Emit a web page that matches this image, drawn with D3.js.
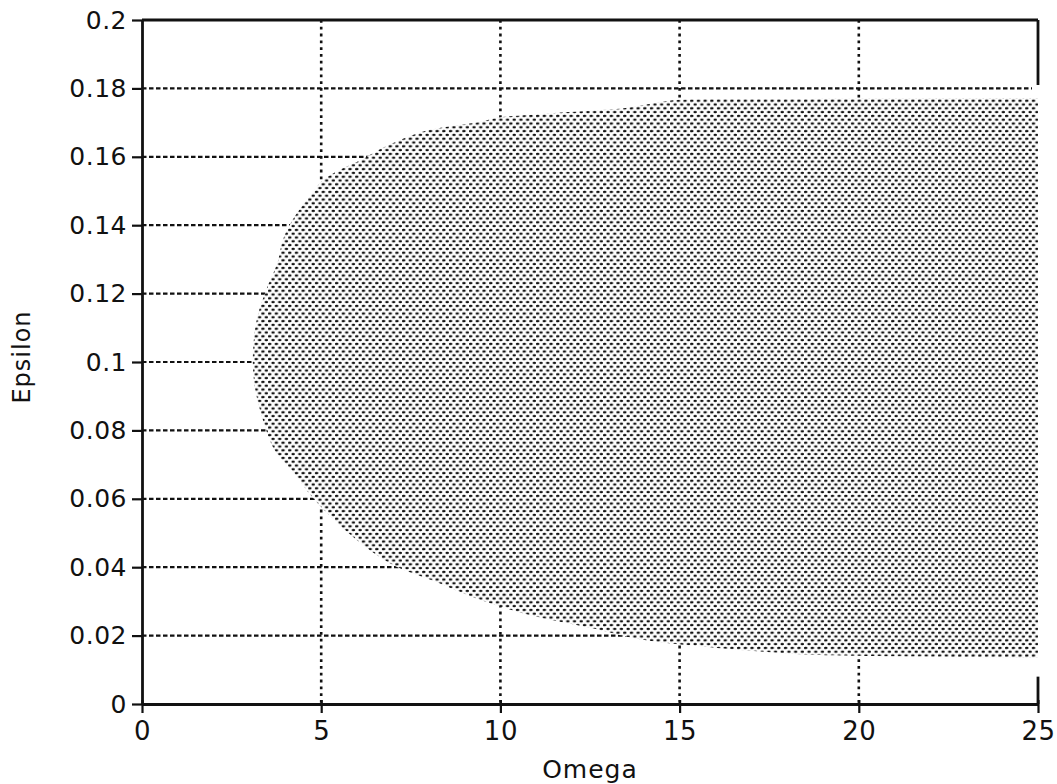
<!DOCTYPE html>
<html>
<head>
<meta charset="utf-8">
<script src="https://cdn.jsdelivr.net/npm/d3@7"></script>
<style>
  body { margin: 0; background: #fff; }
  text { font-family: "DejaVu Sans", sans-serif; fill: #111; }
</style>
</head>
<body>
<div id="chart"></div>
<script>
// Boundary of the shaded (stable) region, traced from top-right round the nose to bottom-right
var boundaryOmega = [25, 18.4, 14.9, 14.3, 13.5, 11.9, 10.8, 10.0, 9.4, 8.0, 7.2, 6.6, 6.2, 5.5,
  5.05, 4.7, 4.2, 3.93, 3.78, 3.52, 3.22, 3.1, 3.13, 3.35, 3.7, 4.25, 4.75, 5.45, 6.35, 7.1,
  8.05, 9.45, 10.6, 11.4, 12.8, 13.7, 14.65, 16.05, 17.45, 18.85, 25];
var boundaryEps = [0.1772, 0.1769, 0.1766, 0.1757, 0.1743, 0.1731, 0.1722, 0.1716, 0.1702, 0.1678,
  0.1649, 0.1620, 0.1596, 0.1561, 0.1532, 0.1488, 0.1415, 0.1357, 0.1290, 0.1225, 0.1132, 0.1035,
  0.0939, 0.0839, 0.0743, 0.0675, 0.0605, 0.0529, 0.0450, 0.0401, 0.0363, 0.0304, 0.0266, 0.0246,
  0.0216, 0.0193, 0.0178, 0.0164, 0.0152, 0.0143, 0.0135];

var xTicks = [0, 5, 10, 15, 20, 25];
var xTickLabels = ["0", "5", "10", "15", "20", "25"];
var yTicks = [0, 0.02, 0.04, 0.06, 0.08, 0.1, 0.12, 0.14, 0.16, 0.18, 0.2];
var yTickLabels = ["0", "0.02", "0.04", "0.06", "0.08", "0.1", "0.12", "0.14", "0.16", "0.18", "0.2"];
var xGrid = [5, 10, 15, 20];
var yGrid = [0.02, 0.04, 0.06, 0.08, 0.1, 0.12, 0.14, 0.16, 0.18];

var svgWidth = 1057;
var svgHeight = 784;

var x = d3.scaleLinear().domain([0, 25]).range([142, 1038]);
var y = d3.scaleLinear().domain([0, 0.2]).range([704, 20]);

var svg = d3.select("#chart")
  .append("svg")
  .attr("width", svgWidth)
  .attr("height", svgHeight);

svg.append("rect").attr("width", svgWidth).attr("height", svgHeight).attr("fill", "#fff");

// Halftone dot pattern for the region
var defs = svg.append("defs");
var pat = defs.append("pattern")
  .attr("id", "dots")
  .attr("patternUnits", "userSpaceOnUse")
  .attr("width", 6.7)
  .attr("height", 7.6);
pat.append("rect").attr("width", 6.7).attr("height", 7.6).attr("fill", "#fff");
pat.append("ellipse").attr("cx", 1.7).attr("cy", 1.9).attr("rx", 1.75).attr("ry", 1.3).attr("fill", "#111");
pat.append("ellipse").attr("cx", 5.05).attr("cy", 5.7).attr("rx", 1.75).attr("ry", 1.3).attr("fill", "#111");

// Grid lines
svg.append("g").selectAll("line")
  .data(yGrid)
  .enter().append("line")
  .attr("x1", x(0)).attr("x2", x(25) - 6)
  .attr("y1", d => y(d)).attr("y2", d => y(d))
  .attr("stroke", "#111")
  .attr("stroke-width", 2.2)
  .attr("stroke-dasharray", "4.5,2.5");

svg.append("g").selectAll("line")
  .data(xGrid)
  .enter().append("line")
  .attr("x1", d => x(d)).attr("x2", d => x(d))
  .attr("y1", y(0.2)).attr("y2", y(0))
  .attr("stroke", "#111")
  .attr("stroke-width", 2.6)
  .attr("stroke-dasharray", "2.8,4");

// Shaded region
var pts = boundaryOmega.map((o, i) => [o, boundaryEps[i]]);
var area = d3.line()
  .x(d => x(d[0]))
  .y(d => y(d[1]))
  .curve(d3.curveCatmullRom.alpha(0.5));

svg.append("path")
  .attr("d", area(pts) + "Z")
  .attr("fill", "url(#dots)")
  .attr("stroke", "none");

// Left axis
var leftAxis = d3.axisLeft(y)
  .tickValues(yTicks)
  .tickFormat((d, i) => yTickLabels[i])
  .tickSize(10)
  .tickSizeOuter(0)
  .tickPadding(5);

var yAxis = svg.append("g")
  .attr("transform", `translate(${x(0)}, 0)`)
  .call(leftAxis);
yAxis.select(".domain").attr("stroke", "#111").attr("stroke-width", 2.8);
yAxis.selectAll(".tick line").attr("stroke", "#111").attr("stroke-width", 2.2);
yAxis.selectAll("text")
  .attr("font-size", 25)
  .attr("letter-spacing", 0.5)
  .attr("font-family", "DejaVu Sans")
  .attr("fill", "#111");

// Bottom axis
var bottomAxis = d3.axisBottom(x)
  .tickValues(xTicks)
  .tickFormat((d, i) => xTickLabels[i])
  .tickSize(9)
  .tickSizeOuter(0)
  .tickPadding(9);

var xAxis = svg.append("g")
  .attr("transform", `translate(0, ${y(0)})`)
  .call(bottomAxis);
xAxis.select(".domain").attr("stroke", "#111").attr("stroke-width", 2.8);
xAxis.selectAll(".tick line").attr("y1", -4).attr("stroke", "#111").attr("stroke-width", 2.2);
xAxis.selectAll("text")
  .attr("font-size", 26)
  .attr("letter-spacing", 0.5)
  .attr("font-family", "DejaVu Sans")
  .attr("fill", "#111");

// Top border and short right border pieces
svg.append("line")
  .attr("x1", x(0)).attr("x2", x(25))
  .attr("y1", y(0.2)).attr("y2", y(0.2))
  .attr("stroke", "#111").attr("stroke-width", 2.8);
svg.append("line")
  .attr("x1", x(25)).attr("x2", x(25))
  .attr("y1", y(0.2)).attr("y2", y(0.181))
  .attr("stroke", "#111").attr("stroke-width", 2.8);
svg.append("line")
  .attr("x1", x(25)).attr("x2", x(25))
  .attr("y1", y(0.008)).attr("y2", y(0))
  .attr("stroke", "#111").attr("stroke-width", 2.8);

// Axis titles
svg.append("text")
  .attr("x", (x(0) + x(25)) / 2)
  .attr("y", 778)
  .attr("text-anchor", "middle")
  .attr("font-size", 25)
  .attr("letter-spacing", 1)
  .text("Omega");

svg.append("text")
  .attr("transform", `translate(30, ${y(0.1) - 5}) rotate(-90)`)
  .attr("text-anchor", "middle")
  .attr("font-size", 24)
  .attr("letter-spacing", 1)
  .text("Epsilon");
</script>
</body>
</html>
